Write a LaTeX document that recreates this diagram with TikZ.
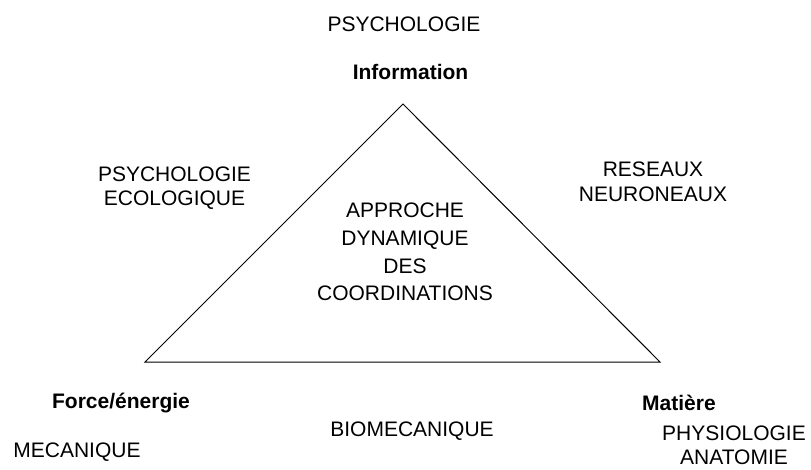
\documentclass[tikz,border=0pt]{standalone}
\usepackage{fontspec}
\setmainfont{Liberation Sans}
\usepackage{tikz}
\usetikzlibrary{positioning}

\begin{document}
\begin{tikzpicture}[x=1pt, y=-1pt,
        lbl/.style={inner sep=0pt, align=center, font=\fontsize{21}{26}\selectfont},
        sub/.style={inner sep=0pt, anchor=base, font=\fontsize{21}{26}\selectfont\bfseries}]
        \useasboundingbox (0,0) rectangle (811,470);

        % Corners
        \coordinate (top) at (403,104);
        \coordinate (left) at (145,362);
        \coordinate (right) at (660,362);

        % Nodes
        \node[lbl, anchor=north] (psy) at (404,17) {PSYCHOLOGIE};
        \node[sub] (info) at (410.5,80) {Information};
        \node[lbl, anchor=north, font=\fontsize{21}{24}\selectfont] (ecol) at (174.5,167) {PSYCHOLOGIE\\ECOLOGIQUE};
        \node[lbl, anchor=north, font=\fontsize{21}{25}\selectfont] (res) at (653,162) {RESEAUX\\NEURONEAUX};
        \node[lbl, anchor=north, font=\fontsize{21}{27.7}\selectfont] (adc) at (405,203) {APPROCHE\\DYNAMIQUE\\DES\\COORDINATIONS};
        \node[sub] (force) at (121,408) {Force/énergie};
        \node[lbl, anchor=base] (meca) at (77,457) {MECANIQUE};
        \node[lbl, anchor=base] (bio) at (412,436) {BIOMECANIQUE};
        \node[sub] (mat) at (679,410) {Matière};
        \node[lbl, anchor=north, font=\fontsize{21}{24}\selectfont] (phys) at (734,426) {PHYSIOLOGIE\\ANATOMIE};

        % Edges
        \draw[line width=1pt] (top) -- (left) -- (right) -- cycle;
    \end{tikzpicture}
\end{document}
